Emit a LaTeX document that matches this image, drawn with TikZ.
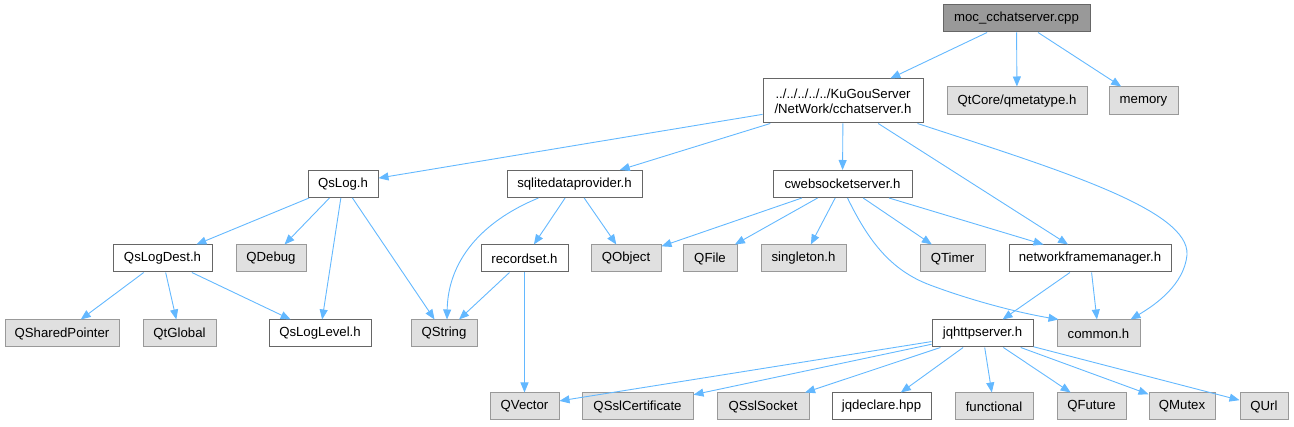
\documentclass[tikz,border=0pt]{standalone}
\usepackage{fontspec}
\setmainfont{Liberation Sans}
\usetikzlibrary{arrows.meta}
\definecolor{edgeblue}{HTML}{63B8FF}
\definecolor{grayfill}{HTML}{E0E0E0}
\definecolor{grayborder}{HTML}{999999}
\definecolor{darkborder}{HTML}{666666}
\definecolor{rootfill}{HTML}{999999}
\tikzset{
  box/.style={draw, line width=1pt, inner sep=0pt, minimum height=27pt, font=\fontsize{13.2}{15}\selectfont, align=center, text=black},
  whitebox/.style={box, draw=darkborder, fill=white},
  graybox/.style={box, draw=grayborder, fill=grayfill},
  rootbox/.style={box, draw=darkborder, fill=rootfill},
  edge/.style={draw=edgeblue, line width=0.9pt, -{Triangle[length=10pt,width=8pt,fill=edgeblue]}}
}
\begin{document}
\begin{tikzpicture}[x=1pt,y=-1pt]
\useasboundingbox (0,0) rectangle (1294,427);
% row 0
\node[rootbox, minimum width=147pt] (root) at (1016.5,18.5) {moc\_cchatserver.cpp};
% row 1
\node[whitebox, minimum width=160pt, minimum height=44pt] (cchat) at (843,101) {../../../../../KuGouServer\\/NetWork/cchatserver.h};
\node[graybox, minimum width=140pt, minimum height=28pt] (qmeta) at (1017,101) {QtCore/qmetatype.h};
\node[graybox, minimum width=69pt, minimum height=28pt] (memory) at (1143.5,101) {memory};
% row 2
\node[whitebox, minimum width=70pt] (qslog) at (343,184) {QsLog.h};
\node[whitebox, minimum width=135pt] (sqlite) at (574.5,184) {sqlitedataprovider.h};
\node[whitebox, minimum width=139pt] (cweb) at (842.5,184) {cwebsocketserver.h};
% row 3
\node[whitebox, minimum width=99pt] (qslogdest) at (162.5,258.5) {QsLogDest.h};
\node[graybox, minimum width=70pt] (qdebug) at (271,258.5) {QDebug};
\node[whitebox, minimum width=87pt] (recordset) at (524.5,258.5) {recordset.h};
\node[graybox, minimum width=70pt] (qobject) at (626,258.5) {QObject};
\node[graybox, minimum width=54pt] (qfile) at (710,258.5) {QFile};
\node[graybox, minimum width=85pt] (singleton) at (803.5,258.5) {singleton.h};
\node[graybox, minimum width=65pt] (qtimer) at (952.5,258.5) {QTimer};
\node[whitebox, minimum width=162pt] (network) at (1090,258.5) {networkframemanager.h};
% row 4
\node[graybox, minimum width=114pt] (qshared) at (62,333.5) {QSharedPointer};
\node[graybox, minimum width=73pt] (qtglobal) at (179.5,333.5) {QtGlobal};
\node[whitebox, minimum width=102pt] (qsloglevel) at (320,333.5) {QsLogLevel.h};
\node[graybox, minimum width=66pt] (qstring) at (444,333.5) {QString};
\node[whitebox, minimum width=101pt] (jqhttp) at (982.5,333.5) {jqhttpserver.h};
\node[graybox, minimum width=83pt] (common) at (1098.5,333.5) {common.h};
% row 5
\node[graybox, minimum width=69pt] (qvector) at (524.5,406.5) {QVector};
\node[graybox, minimum width=111pt] (qsslcert) at (637.5,406.5) {QSslCertificate};
\node[graybox, minimum width=92pt] (qsslsock) at (763,406.5) {QSslSocket};
\node[whitebox, minimum width=99pt] (jqdeclare) at (881.5,406.5) {jqdeclare.hpp};
\node[graybox, minimum width=78pt] (functional) at (994,406.5) {functional};
\node[graybox, minimum width=69pt] (qfuture) at (1091.5,406.5) {QFuture};
\node[graybox, minimum width=66pt] (qmutex) at (1182,406.5) {QMutex};
\node[graybox, minimum width=48pt] (qurl) at (1264,406.5) {QUrl};
% edges
\path[edge] (root) -- (cchat);
\path[edge] (root) -- (qmeta);
\path[edge] (root) -- (memory);
\path[edge] (cchat) -- (qslog);
\path[edge] (cchat) -- (sqlite);
\path[edge] (cchat) -- (cweb);
\path[edge] (cchat) -- (network);
\path[edge] ([xshift=-6pt]cchat.south east) .. controls (1060,170) and (1190,210) .. (1187,255) .. controls (1184,285) and (1155,305) .. ([xshift=-10pt]common.north east);
\path[edge] (qslog) -- (qslogdest);
\path[edge] (qslog) -- (qdebug);
\path[edge] (qslog) -- (qsloglevel);
\path[edge] (qslog) -- (qstring);
\path[edge] (qslogdest) -- (qshared);
\path[edge] (qslogdest) -- (qtglobal);
\path[edge] (qslogdest) -- (qsloglevel);
\path[edge] ([xshift=-36pt]sqlite.south) .. controls (480,222) and (448,262) .. ([xshift=3pt]qstring.north);
\path[edge] (sqlite) -- (recordset);
\path[edge] (sqlite) -- (qobject);
\path[edge] (recordset) -- (qstring);
\path[edge] (recordset) -- (qvector);
\path[edge] (cweb) -- (qobject);
\path[edge] (cweb) -- (qfile);
\path[edge] (cweb) -- (singleton);
\path[edge] (cweb) -- (qtimer);
\path[edge] (cweb) -- (network);
\path[edge] ([xshift=5pt]cweb.south) .. controls (868,240) and (890,270) .. (930,285) .. controls (970,300) and (1015,312) .. ([xshift=2pt]common.north west);
\path[edge] (network) -- (jqhttp);
\path[edge] (network) -- (common);
\path[edge] (jqhttp) -- (qvector);
\path[edge] (jqhttp) -- (qsslcert);
\path[edge] (jqhttp) -- (qsslsock);
\path[edge] (jqhttp) -- (jqdeclare);
\path[edge] (jqhttp) -- (functional);
\path[edge] (jqhttp) -- (qfuture);
\path[edge] (jqhttp) -- (qmutex);
\path[edge] (jqhttp) -- (qurl);
\end{tikzpicture}
\end{document}
